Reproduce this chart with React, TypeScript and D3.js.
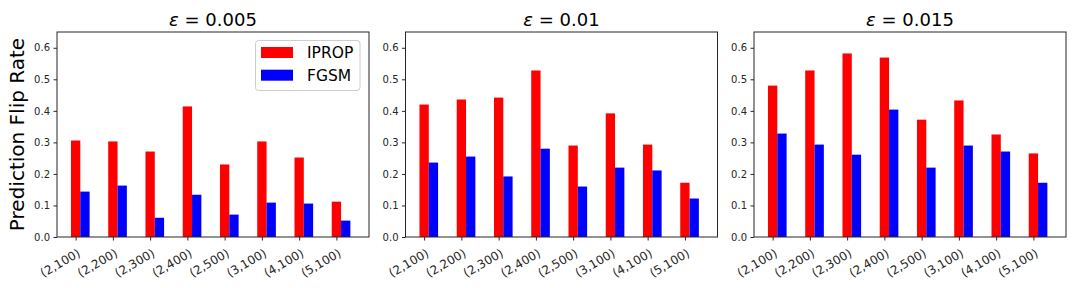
import * as d3 from "d3";
import React, { useEffect, useRef } from "react";

const categories = ["(2,100)", "(2,200)", "(2,300)", "(2,400)", "(2,500)", "(3,100)", "(4,100)", "(5,100)"];
const epsilons = ["0.005", "0.01", "0.015"];
const seriesNames = ["IPROP", "FGSM"];
const seriesColors = ["#ff0000", "#0000ff"];

const iprop005 = [0.306, 0.303, 0.271, 0.414, 0.23, 0.303, 0.252, 0.112];
const fgsm005 = [0.144, 0.163, 0.061, 0.134, 0.071, 0.109, 0.106, 0.052];
const iprop01 = [0.42, 0.436, 0.442, 0.528, 0.29, 0.392, 0.293, 0.172];
const fgsm01 = [0.236, 0.255, 0.192, 0.28, 0.16, 0.22, 0.211, 0.122];
const iprop015 = [0.48, 0.528, 0.582, 0.569, 0.372, 0.433, 0.325, 0.265];
const fgsm015 = [0.328, 0.293, 0.261, 0.404, 0.22, 0.29, 0.271, 0.172];

const yTicks = [0, 0.1, 0.2, 0.3, 0.4, 0.5, 0.6];

function App() {
  const ref = useRef(null);

  useEffect(() => {
    const svg = d3.select(ref.current);
    svg.selectAll("*").remove();

    const panels = [
      [iprop005, fgsm005],
      [iprop01, fgsm01],
      [iprop015, fgsm015],
    ];
    const lefts = [57, 405.5, 754];
    const width = 312,
      top = 32,
      bottom = 237;
    const barW = 0.25;
    const ink = "#262626";

    var y = d3.scaleLinear().domain([0, 0.65]).range([bottom, top]);

    panels.forEach((series, p) => {
      var x = d3.scaleLinear().domain([-0.5, 7.875]).range([lefts[p], lefts[p] + width]);
      var g = svg.append("g");

      series.forEach((vals, s) => {
        g.selectAll(null)
          .data(vals)
          .enter()
          .append("rect")
          .attr("x", (d, i) => x(i - barW / 2 + s * barW))
          .attr("width", x(barW) - x(0))
          .attr("y", (d) => y(d))
          .attr("height", (d) => bottom - y(d))
          .attr("fill", seriesColors[s]);
      });

      // frame
      g.append("rect")
        .attr("x", lefts[p])
        .attr("y", top)
        .attr("width", width)
        .attr("height", bottom - top)
        .attr("fill", "none")
        .attr("stroke", ink)
        .attr("stroke-width", 1);

      var yAxis = g
        .append("g")
        .attr("transform", "translate(" + lefts[p] + ",0)")
        .call(d3.axisLeft(y).tickValues(yTicks).tickFormat(d3.format(".1f")).tickSize(3.5).tickPadding(3.5));
      yAxis.select(".domain").remove();
      yAxis.selectAll("line").attr("stroke", ink);
      yAxis
        .selectAll("text")
        .attr("fill", ink)
        .style("font-family", "DejaVu Sans")
        .style("font-size", "10px");

      var xAxis = g
        .append("g")
        .attr("transform", "translate(0," + bottom + ")")
        .call(
          d3
            .axisBottom(x)
            .tickValues(d3.range(categories.length))
            .tickFormat((d) => categories[d])
            .tickSize(3.5)
        );
      xAxis.select(".domain").remove();
      xAxis.selectAll("line").attr("stroke", ink);
      xAxis
        .selectAll("text")
        .attr("fill", ink)
        .style("font-family", "DejaVu Sans")
        .style("font-size", "12px")
        .attr("text-anchor", "end")
        .attr("x", 0)
        .attr("y", 0)
        .attr("dy", "0.35em")
        .attr("transform", "translate(3,15) rotate(-30)");

      var title = g
        .append("text")
        .attr("x", lefts[p] + width / 2)
        .attr("y", 26)
        .attr("text-anchor", "middle")
        .style("font-family", "DejaVu Sans")
        .style("font-size", "18px")
        .attr("fill", "#000");
      title.append("tspan").style("font-style", "italic").text("ε");
      title.append("tspan").text(" = " + epsilons[p]);
    });

    svg
      .append("text")
      .attr("transform", "translate(24," + (top + bottom) / 2 + ") rotate(-90)")
      .attr("text-anchor", "middle")
      .style("font-family", "DejaVu Sans")
      .style("font-size", "20px")
      .attr("fill", "#000")
      .text("Prediction Flip Rate");

    // legend
    var legend = svg.append("g");
    legend
      .append("rect")
      .attr("x", 255.5)
      .attr("y", 40.5)
      .attr("width", 104.5)
      .attr("height", 50)
      .attr("rx", 3)
      .attr("fill", "#fff")
      .attr("fill-opacity", 0.8)
      .attr("stroke", "#cccccc");
    seriesNames.forEach((name, i) => {
      legend
        .append("rect")
        .attr("x", 261)
        .attr("y", 47 + i * 22.7)
        .attr("width", 32)
        .attr("height", 11)
        .attr("fill", seriesColors[i]);
      legend
        .append("text")
        .attr("x", 307)
        .attr("y", 52.5 + i * 22.7)
        .attr("dy", "0.35em")
        .style("font-family", "DejaVu Sans")
        .style("font-size", "15.5px")
        .attr("fill", "#000")
        .text(name);
    });
  }, []);

  return (
    <svg
      ref={ref}
      width={1080}
      height={288}
      style={{ position: "absolute", left: 0, top: 0, background: "#fff" }}
    />
  );
}

export default App;
